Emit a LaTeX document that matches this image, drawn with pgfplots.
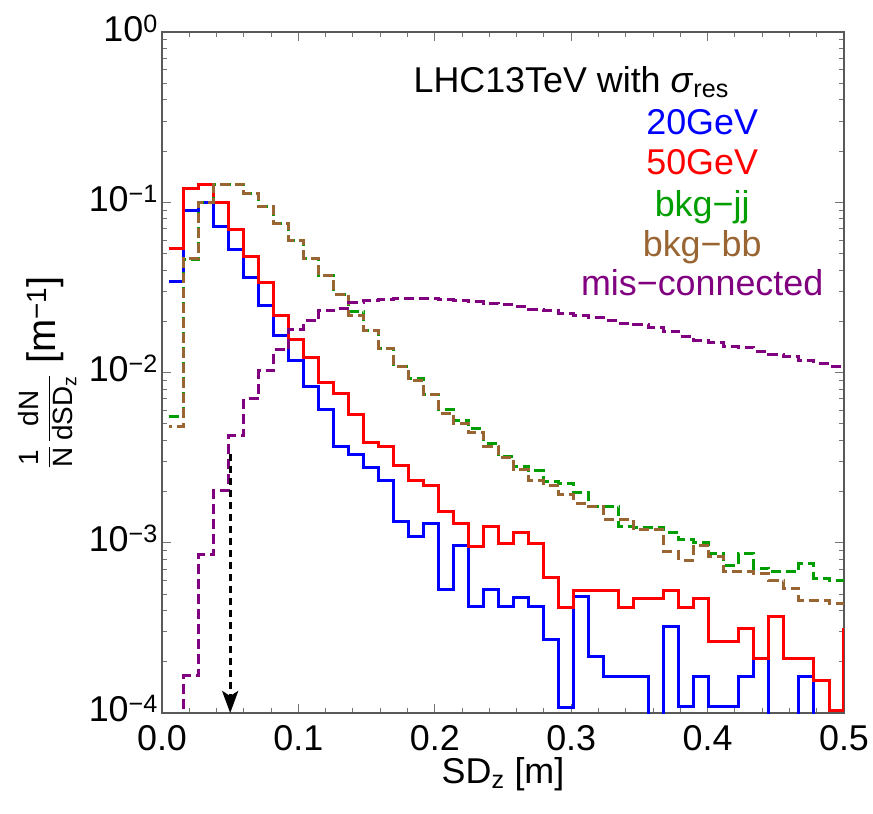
\documentclass[border=0pt]{standalone}
\usepackage{fontspec}
\setmainfont{Liberation Sans}
\usepackage{amsmath}
\usepackage{pgfplots}
\pgfplotsset{compat=1.18}
\usetikzlibrary{arrows.meta}
\definecolor{mgreen}{rgb}{0,0.62,0}
\definecolor{mbrown}{rgb}{0.6,0.4,0.2}
\definecolor{mpurple}{rgb}{0.5,0,0.5}
\newcommand{\bigf}{\fontsize{36}{40}\selectfont}
\newcommand{\ylf}{\fontsize{40}{44}\selectfont}
\newcommand{\fr}{\fontsize{28}{28}\selectfont}
\begin{document}
\begin{tikzpicture}
\path[use as bounding box] (-162bp,-101bp) rectangle (711bp,713bp);
\begin{axis}[
  at={(0,0)}, anchor=south west,
  scale only axis, width=682bp, height=681bp,
  ymode=log, xmin=0, xmax=0.5, ymin=1e-4, ymax=1,
  xtick={0,0.1,0.2,0.3,0.4,0.5},
  xticklabels={0.0,0.1,0.2,0.3,0.4,0.5},
  minor x tick num=4,
  ytick={1e-4,1e-3,1e-2,1e-1,1},
  yticklabels={10\textsuperscript{−4},10\textsuperscript{−3},10\textsuperscript{−2},10\textsuperscript{−1},10\textsuperscript{0}},
  tick align=inside,
  major tick length=9bp, minor tick length=5bp,
  every tick/.style={black!55, line width=1bp},
  axis line style={black!65, line width=1.3bp},
  tick label style={font=\bigf},
  yticklabel style={inner xsep=4bp, inner ysep=0bp, yshift=4bp},
  xticklabel style={inner xsep=0bp, inner ysep=0bp, yshift=-12bp},
  label style={font=\bigf},
  xlabel={SD\textsubscript{z} [m]},
  xlabel style={at={(axis description cs:0.5,-0.09)}, anchor=center},
  ylabel={$\genfrac{}{}{0.7pt}{0}{\text{\fr 1}}{\text{\fr N}}\,\genfrac{}{}{0.7pt}{0}{\text{\fr dN}}{\text{\fr dSD\textsubscript{z}}}$ [m\textsuperscript{−1}]},
  ylabel style={at={(axis description cs:-0.168,0.5)}, anchor=center, font=\ylf},
  clip=true,
]
% 20 GeV
\addplot[const plot, blue, line width=3bp] coordinates {
(0.005,0.0341)(0.016,0.0889)(0.027,0.099)(0.038,0.072)(0.049,0.0525)(0.060,0.036)(0.071,0.0247)(0.082,0.0166)(0.093,0.0117)(0.104,0.0083)
(0.115,0.0061)(0.126,0.00367)(0.137,0.00332)(0.148,0.00277)(0.159,0.00232)(0.170,0.00133)(0.181,0.00109)(0.192,0.00129)(0.203,0.000528)(0.214,0.00097)
(0.225,0.000425)(0.236,0.000533)(0.247,0.000425)(0.258,0.000478)(0.269,0.000425)(0.280,0.000269)(0.291,0.000108)(0.302,0.000482)(0.313,0.000214)(0.324,0.000163)
(0.335,0.000163)(0.346,0.000163)(0.357,0.000001)(0.368,0.000321)(0.379,0.000109)(0.390,0.000163)(0.401,0.000109)(0.412,0.000109)(0.423,0.000163)(0.434,0.000209)
(0.445,0.000001)(0.456,0.000001)(0.467,0.000163)(0.478,0.000001)(0.489,0.000001)(0.500,0.000001)};
% 50 GeV
\addplot[const plot, red, line width=3bp] coordinates {
(0.005,0.0534)(0.016,0.121)(0.027,0.127)(0.038,0.0993)(0.049,0.0696)(0.060,0.0479)(0.071,0.0339)(0.082,0.0216)(0.093,0.0157)(0.104,0.0123)
(0.115,0.0087)(0.126,0.00748)(0.137,0.00563)(0.148,0.00387)(0.159,0.00367)(0.170,0.00286)(0.181,0.00232)(0.192,0.00218)(0.203,0.00152)(0.214,0.0013)
(0.225,0.000948)(0.236,0.00125)(0.247,0.000993)(0.258,0.00115)(0.269,0.000993)(0.280,0.000626)(0.291,0.000415)(0.302,0.000523)(0.313,0.000523)(0.324,0.000523)
(0.335,0.000415)(0.346,0.000472)(0.357,0.000472)(0.368,0.000523)(0.379,0.000415)(0.390,0.000472)(0.401,0.000262)(0.412,0.000262)(0.423,0.000314)(0.434,0.000209)
(0.445,0.000368)(0.456,0.000209)(0.467,0.000209)(0.478,0.000156)(0.489,0.000103)(0.4995,0.000314)};
% bkg-jj
\addplot[const plot, mgreen, line width=3bp, dash pattern=on 10bp off 5bp] coordinates {
(0.005,0.0055)(0.016,0.0462)(0.027,0.1)(0.038,0.128)(0.049,0.128)(0.060,0.113)(0.071,0.094)(0.082,0.0755)(0.093,0.06)(0.104,0.047)
(0.115,0.0369)(0.126,0.0288)(0.137,0.0228)(0.148,0.0176)(0.159,0.0139)(0.170,0.0108)(0.181,0.00925)(0.192,0.00745)(0.203,0.00603)(0.214,0.00526)
(0.225,0.00466)(0.236,0.00384)(0.247,0.0032)(0.258,0.0028)(0.269,0.00265)(0.280,0.00229)(0.291,0.00224)(0.302,0.00197)(0.313,0.00164)(0.324,0.00164)
(0.335,0.00124)(0.346,0.00123)(0.357,0.00123)(0.368,0.00115)(0.379,0.00104)(0.390,0.0010)(0.401,0.000867)(0.412,0.00074)(0.423,0.00086)(0.434,0.000708)
(0.445,0.000676)(0.456,0.000676)(0.467,0.000757)(0.478,0.000618)(0.489,0.000604)(0.500,0.000604)};
% bkg-bb
\addplot[const plot, mbrown, line width=3bp, dash pattern=on 10bp off 5bp, dash phase=7bp] coordinates {
(0.005,0.00485)(0.016,0.047)(0.027,0.1)(0.038,0.128)(0.049,0.128)(0.060,0.113)(0.071,0.094)(0.082,0.0755)(0.093,0.06)(0.104,0.047)
(0.115,0.0369)(0.126,0.0288)(0.137,0.0216)(0.148,0.0176)(0.159,0.0139)(0.170,0.0108)(0.181,0.00895)(0.192,0.00745)(0.203,0.00576)(0.214,0.00499)
(0.225,0.00443)(0.236,0.0037)(0.247,0.00317)(0.258,0.00268)(0.269,0.00231)(0.280,0.00218)(0.291,0.00191)(0.302,0.00171)(0.313,0.00163)(0.324,0.00137)
(0.335,0.00137)(0.346,0.00119)(0.357,0.00119)(0.368,0.000887)(0.379,0.000792)(0.390,0.00097)(0.401,0.000828)(0.412,0.000676)(0.423,0.000676)(0.434,0.000661)
(0.445,0.000604)(0.456,0.00054)(0.467,0.000461)(0.478,0.000461)(0.489,0.000441)(0.500,0.000441)};
% mis-connected
\addplot[const plot, mpurple, line width=3bp, dash pattern=on 10bp off 5bp] coordinates {
(0.005,0.000001)(0.016,0.000165)(0.027,0.00085)(0.038,0.00204)(0.049,0.00424)(0.060,0.00705)(0.071,0.0103)(0.082,0.0137)(0.093,0.018)(0.104,0.0202)
(0.115,0.0231)(0.126,0.0238)(0.137,0.0257)(0.148,0.0264)(0.159,0.0269)(0.170,0.0272)(0.181,0.0272)(0.192,0.0272)(0.203,0.0267)(0.214,0.0264)
(0.225,0.026)(0.236,0.0255)(0.247,0.025)(0.258,0.0244)(0.269,0.0236)(0.280,0.0231)(0.291,0.0223)(0.302,0.0216)(0.313,0.021)(0.324,0.0202)
(0.335,0.0195)(0.346,0.0191)(0.357,0.0184)(0.368,0.0174)(0.379,0.0162)(0.390,0.0155)(0.401,0.015)(0.412,0.0143)(0.423,0.0141)(0.434,0.0133)
(0.445,0.0128)(0.456,0.0125)(0.467,0.0118)(0.478,0.0113)(0.489,0.0108)(0.500,0.0108)};
% arrow
\addplot[black, line width=3bp, dash pattern=on 7bp off 5bp, -{Stealth[length=22bp,width=16bp,inset=5bp]}] coordinates {(0.05,0.0033)(0.05,0.0001)};
\node[font=\bigf, anchor=center] at (axis description cs:0.600,0.9266) {LHC13TeV with \textit{σ}\textsubscript{res}};
\node[font=\bigf, text=blue, anchor=center] at (axis description cs:0.792,0.8678) {20GeV};
\node[font=\bigf, text=red, anchor=center] at (axis description cs:0.792,0.8091) {50GeV};
\node[font=\bigf, text=mgreen, anchor=center] at (axis description cs:0.792,0.743) {bkg−jj};
\node[font=\bigf, text=mbrown, anchor=center] at (axis description cs:0.792,0.6843) {bkg−bb};
\node[font=\bigf, text=mpurple, anchor=center] at (axis description cs:0.792,0.6314) {mis−connected};
\end{axis}
\end{tikzpicture}
\end{document}
